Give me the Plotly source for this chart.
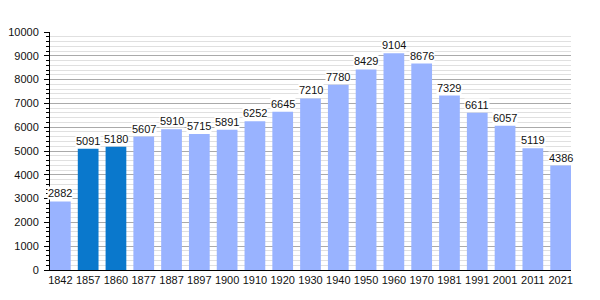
import plotly.graph_objects as go

years = ["1842", "1857", "1860", "1877", "1887", "1897", "1900", "1910", "1920", "1930",
         "1940", "1950", "1960", "1970", "1981", "1991", "2001", "2011", "2021"]
population = [2882, 5091, 5180, 5607, 5910, 5715, 5891, 6252, 6645, 7210,
              7780, 8429, 9104, 8676, 7329, 6611, 6057, 5119, 4386]
highlight_years = ["1857", "1860"]

light = "#99b3ff"
dark = "#0a78cc"
colors = [dark if y in highlight_years else light for y in years]

fig = go.Figure()
fig.add_trace(go.Bar(x=years, y=population, marker=dict(color=colors, line=dict(width=0)),
                     hoverinfo="x+y"))

for i, val in enumerate(population):
    fig.add_annotation(x=i, y=val, xref="x", yref="y", text=str(val), showarrow=False,
                       yanchor="bottom", yshift=1, bgcolor="white", borderpad=0,
                       font=dict(family="Liberation Sans, Arial", size=11, color="#111"))

fig.update_layout(
    width=600, height=300,
    margin=dict(l=50, r=29, t=32, b=30),
    paper_bgcolor="white", plot_bgcolor="white",
    bargap=0.254,
    showlegend=False,
    font=dict(family="Liberation Sans, Arial", size=11, color="#111"),
)
fig.update_xaxes(type="category", range=[-0.373, 18.373], showline=True, linecolor="black",
                 linewidth=1, ticks="", showgrid=False, tickfont=dict(size=11),
                 automargin=False)
fig.update_yaxes(range=[0, 10000], dtick=1000, tickformat="d", showline=True,
                 linecolor="black", linewidth=1, ticklabelstandoff=3, automargin=False,
                 ticks="outside", ticklen=5, tickcolor="black", showgrid=True, gridcolor="#aaaaaa",
                 gridwidth=1, zeroline=False,
                 minor=dict(dtick=200, ticks="outside", ticklen=3, tickcolor="black",
                            showgrid=True, gridcolor="#e0e0e0", gridwidth=1),
                 tickfont=dict(size=11))

fig.write_html("out.html")
